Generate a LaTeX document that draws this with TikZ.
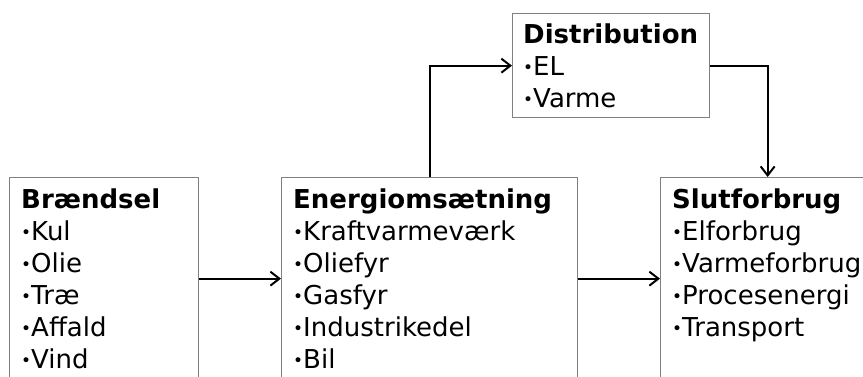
\documentclass[tikz,border=0pt]{standalone}
\usepackage{fontspec}
\setmainfont{DejaVu Sans}
\usepackage{tikz}
\usetikzlibrary{arrows.meta}

\newcommand{\bl}{\raisebox{2pt}{\fontsize{17}{17}\selectfont•}}

\begin{document}
\begin{tikzpicture}	[
		x = 1pt,
		y = 1pt,
		b/.style = {
			draw = black!50,
			line width = 1.3pt,
			inner sep = 0pt,
			anchor = north west
		},
		t/.style = {
			anchor = north west,
			align = left,
			inner sep = 0pt,
			font = \fontsize{26}{32}\selectfont
		},
		a/.style = {
			-{Straight Barb[length=9pt,width=14pt,line width=2pt]},
			line width = 2pt
		}
	]

	\useasboundingbox (0,0) rectangle (863,376);
	\clip (0,0) rectangle (863,376);

	\node [b, minimum width=189pt, minimum height=202pt] (fuel) at (9,199){};
	\node [b, minimum width=296pt, minimum height=202pt] (conv) at (281,199){};
	\node [b, minimum width=214pt, minimum height=202pt] (use) at (660,199){};
	\node [b, minimum width=197pt, minimum height=104pt] (dist) at (512,363){};

	\node [t] at ([shift={(12,-12)}]fuel.north west) {\textbf{Brændsel}\\\bl Kul\\\bl Olie\\\bl Træ\\\bl Affald\\\bl Vind};
	\node [t] at ([shift={(12,-12)}]conv.north west) {\textbf{Energiomsætning}\\\bl Kraftvarmeværk\\\bl Oliefyr\\\bl Gasfyr\\\bl Industrikedel\\\bl Bil};
	\node [t] at ([shift={(12,-12)}]use.north west) {\textbf{Slutforbrug}\\\bl Elforbrug\\\bl Varmeforbrug\\\bl Procesenergi\\\bl Transport};
	\node [t] at ([shift={(11,-11)}]dist.north west) {\textbf{Distribution}\\\bl EL\\\bl Varme};

	\draw [a] (fuel) -- (conv);
	\draw [a] (conv) -- (use);
	\draw [a] (conv.north) |- (dist.west);
	\draw [a] (dist.east) -| (use.north);
\end{tikzpicture}
\end{document}
